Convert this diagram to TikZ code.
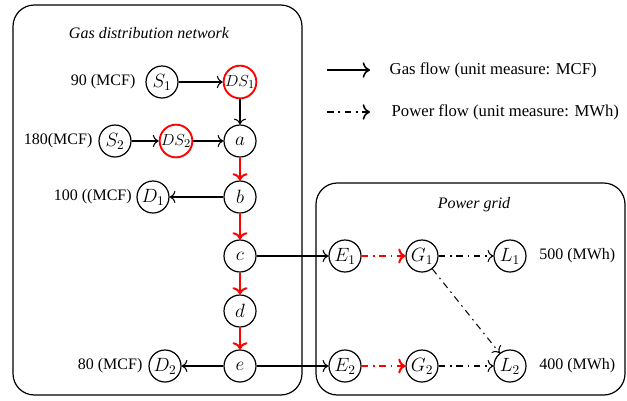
\documentclass[tikz,border=0pt]{standalone}
\usepackage{fontspec}
\setmainfont{Liberation Serif}
\usetikzlibrary{arrows.meta}
\begin{document}
\begin{tikzpicture}[x=0.75pt, y=-0.75pt, font=\fontsize{12}{14}\selectfont,
    nd/.style={circle, draw, line width=0.9pt, minimum size=24pt, inner sep=0pt, font=\fontsize{14.5}{16}\selectfont},
    rd/.style={nd, draw=red, line width=1.4pt, font=\fontsize{13}{15}\selectfont},
    gas/.style={->, >={To[scale=1.3]}, line width=0.8pt},
    hot/.style={->, >={To[scale=1.1]}, red, line width=1.5pt},
    dd/.style={dash pattern=on 5pt off 3.5pt on 1.2pt off 3.5pt},
    pow/.style={->, >={To[scale=1.3]}, dd, line width=0.8pt},
    hotpow/.style={->, >={To[scale=1.1]}, dd, red, line width=1.5pt}]
    \useasboundingbox (0,0) rectangle (627,400);
    % the two areas
    \draw [rounded corners=16pt, line width=0.9pt] (13,5) rectangle (302,395);
    \draw [rounded corners=16pt, line width=0.9pt] (316,183) rectangle (625,395);
    \node (gastitle) at (149,33) {\itshape Gas distribution network};
    \node (powtitle) at (474,205) {\itshape Power grid};
    % gas nodes
    \node [nd] (S1) at (162,82) {$S_1$};
    \node [rd] (DS1) at (240,82) {$DS_1$};
    \node [nd] (S2) at (115,141) {$S_2$};
    \node [rd] (DS2) at (176,141) {$DS_2$};
    \node [nd] (a) at (240,141) {$a$};
    \node [nd] (b) at (240,197) {$b$};
    \node [nd] (D1) at (153,197) {$D_1$};
    \node [nd] (c) at (240,256) {$c$};
    \node [nd] (d) at (240,311) {$d$};
    \node [nd] (e) at (240,366) {$e$};
    \node [nd] (D2) at (165,366) {$D_2$};
    % power nodes
    \node [nd] (E1) at (345,256) {$E_1$};
    \node [nd] (G1) at (422,256) {$G_1$};
    \node [nd] (L1) at (510,256) {$L_1$};
    \node [nd] (E2) at (345,366) {$E_2$};
    \node [nd] (G2) at (422,366) {$G_2$};
    \node [nd] (L2) at (510,366) {$L_2$};
    % amounts
    \node at (S1.west) [anchor=east, xshift=-4pt] (s1val) {90 (MCF)};
    \node at (S2.west) [anchor=east, xshift=-1pt] (s2val) {180(MCF)};
    \node at (D1.west) [anchor=east, xshift=0pt] (d1val) {100 ((MCF)};
    \node at (D2.west) [anchor=east, xshift=-1pt] (d2val) {80 (MCF)};
    \node at (L1.east) [anchor=west, xshift=6pt] (l1val) {500 (MWh)};
    \node at (L2.east) [anchor=west, xshift=6pt] (l2val) {400 (MWh)};
    % gas flows
    \draw [gas] (S1) -- (DS1);
    \draw [gas] (DS1) -- (a);
    \draw [gas] (S2) -- (DS2);
    \draw [gas] (DS2) -- (a);
    \draw [hot] (a) -- (b);
    \draw [gas] (b) -- (D1);
    \draw [hot] (b) -- (c);
    \draw [hot] (c) -- (d);
    \draw [hot] (d) -- (e);
    \draw [gas] (e) -- (D2);
    \draw [gas] (c) -- (E1);
    \draw [gas] (e) -- (E2);
    % power flows
    \draw [hotpow] (E1) -- (G1);
    \draw [hotpow] (E2) -- (G2);
    \draw [pow] (G1) -- (L1);
    \draw [pow] (G2) -- (L2);
    \draw [pow] (G1) -- (L2);
    % legend
    \coordinate (k0) at (327,70);
    \coordinate (k1) at (370,70);
    \coordinate (k2) at (327,112);
    \coordinate (k3) at (370,112);
    \draw [gas, line width=1.2pt] (k0) -- (k1);
    \draw [pow, line width=1.2pt] (k2) -- (k3);
    \node at (385,70) [anchor=west, font=\fontsize{12.5}{14}\selectfont] (gaskey) {Gas flow (unit measure: MCF)};
    \node at (387,112) [anchor=west, font=\fontsize{12.5}{14}\selectfont] (powkey) {Power flow (unit measure: MWh)};
\end{tikzpicture}
\end{document}
